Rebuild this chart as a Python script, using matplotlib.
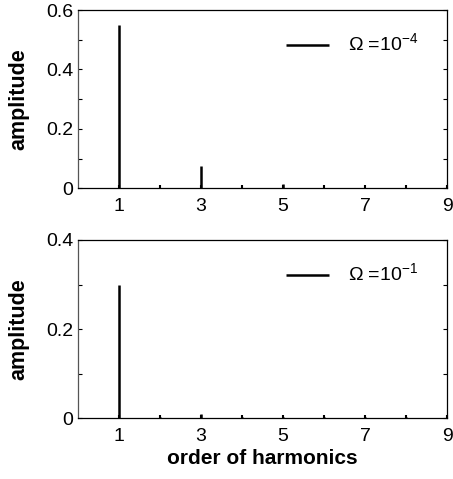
import matplotlib.pyplot as plt

plt.rcParams['font.family'] = ['Liberation Sans', 'DejaVu Sans']
plt.rcParams['mathtext.fontset'] = 'custom'
plt.rcParams['mathtext.rm'] = 'Liberation Sans'

orders = [1, 2, 3, 4, 5, 6, 7, 8, 9]
amp_low = [0.55, 0.002, 0.076, 0.002, 0.016, 0.002, 0.002, 0.002, 0.002]
amp_high = [0.30, 0.002, 0.010, 0.002, 0.002, 0.002, 0.002, 0.002, 0.002]
labels = ['Ω =10$^{-4}$', 'Ω =10$^{-1}$']
ylims = [0.6, 0.4]


def plot_spectrum(ax, amps, label, ymax):
    ax.vlines(orders, 0, amps, color='black', linewidth=1.8, label=label)
    ax.set_xlim(0, 9)
    ax.set_ylim(0, ymax)
    ax.set_xticks([1, 3, 5, 7, 9])
    ax.set_xticks([2, 4, 6, 8], minor=True)
    major = [i / 10 for i in range(0, int(ymax * 10) + 1, 2)]
    minor = [i / 10 for i in range(1, int(ymax * 10), 2)]
    ax.set_yticks(major)
    ax.set_yticklabels(['0' if v == 0 else f'{v:.1f}' for v in major])
    ax.set_yticks(minor, minor=True)
    ax.tick_params(axis='both', which='both', direction='in', labelsize=14,
                   right=True, length=3, width=0.8)
    ax.tick_params(axis='x', which='both', length=2, width=1.5, pad=7)
    ax.set_ylabel('amplitude', fontsize=15.5, fontweight='bold', labelpad=12)
    for s in ax.spines.values():
        s.set_linewidth(0.9)
    ax.spines['left'].set_color('#555555')
    ax.legend(loc='upper right', frameon=False, fontsize=14, handlelength=2.2,
              handletextpad=1.0, bbox_to_anchor=(0.97, 0.97))


fig, axs = plt.subplots(2, 1, figsize=(4.53, 4.79), dpi=100)
plt.subplots_adjust(left=0.172, right=0.987, top=0.979, bottom=0.127, hspace=0.29)

plot_spectrum(axs[0], amp_low, labels[0], ylims[0])
plot_spectrum(axs[1], amp_high, labels[1], ylims[1])
axs[1].set_xlabel('order of harmonics', fontsize=15, fontweight='bold', labelpad=3)

fig.savefig('out.png', dpi=100)
